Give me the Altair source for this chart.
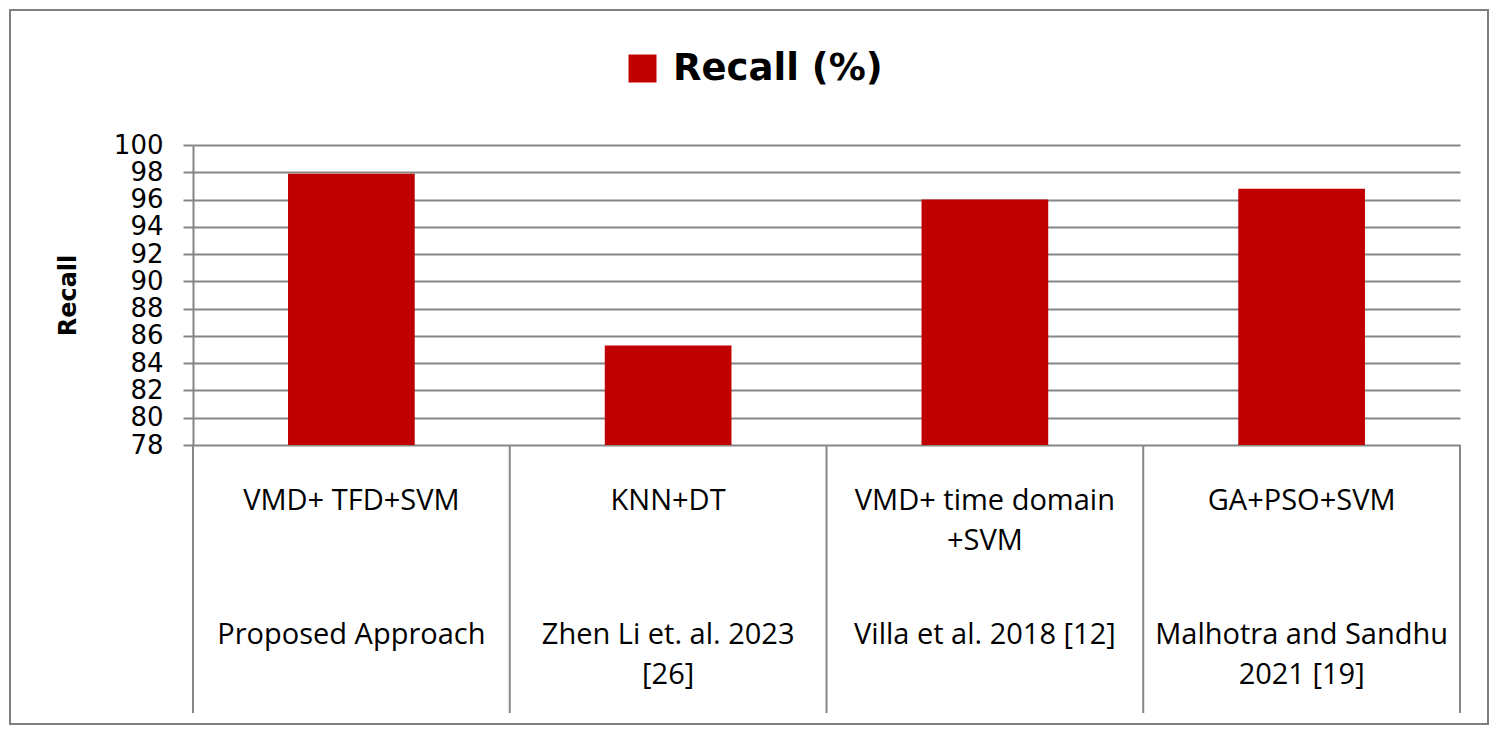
import altair as alt
import pandas as pd

methods = ["VMD+ TFD+SVM", "KNN+DT", "VMD+ time domain +SVM", "GA+PSO+SVM"]
recall = [97.9, 85.3, 96.0, 96.8]
method_lines = [["VMD+ TFD+SVM"], ["KNN+DT"], ["VMD+ time domain", "+SVM"], ["GA+PSO+SVM"]]
source_lines = [["Proposed Approach"], ["Zhen Li et. al. 2023", "[26]"],
                ["Villa et al. 2018 [12]"], ["Malhotra and Sandhu", "2021 [19]"]]
y_ticks = list(range(78, 101, 2))
y_min = 78
series = ["Recall (%)"]

GRAY = "#868686"
RED = "#C00000"

df = pd.DataFrame({
    "method": methods,
    "recall": recall,
    "mlines": method_lines,
    "slines": source_lines,
    "series": series * len(methods),
})

xenc = alt.X("method:N", sort=methods,
             scale=alt.Scale(paddingInner=0, paddingOuter=0), axis=None)

base = alt.Chart(df)

bars = base.mark_bar(width=alt.RelativeBandSize(0.4)).encode(
    x=xenc,
    y=alt.Y("recall:Q",
            scale=alt.Scale(domain=[78, 100], nice=False, zero=False),
            axis=alt.Axis(values=y_ticks, title="Recall",
                          titleFont="DejaVu Sans", titleFontWeight="bold",
                          titleFontSize=24, titleColor="black",
                          titleAngle=-90, titleX=-125, titleY=150,
                          titleAlign="center", titleBaseline="middle",
                          labelFont="DejaVu Sans", labelFontSize=26,
                          labelColor="black", labelPadding=20,
                          tickSize=10, tickColor=GRAY, tickWidth=2,
                          domainColor=GRAY, domainWidth=2,
                          gridColor=GRAY, gridWidth=2, gridOpacity=1)),
    y2=alt.datum(y_min),
    color=alt.Color("series:N",
                    scale=alt.Scale(domain=series, range=[RED]),
                    legend=alt.Legend(title=None, orient="none",
                                      legendX=431, legendY=-95,
                                      symbolType="square", symbolSize=784,
                                      symbolStrokeWidth=0, symbolOpacity=1,
                                      labelFont="DejaVu Sans",
                                      labelFontWeight="bold",
                                      labelFontSize=37, labelOffset=12,
                                      labelLimit=500,
                                      labelColor="black", padding=0)),
)

seps_left = base.mark_rule(color=GRAY, strokeWidth=2).encode(
    x=alt.X("method:N", sort=methods, bandPosition=0,
            scale=alt.Scale(paddingInner=0, paddingOuter=0), axis=None),
    y=alt.value(300), y2=alt.value(568),
)
seps_right = base.mark_rule(color=GRAY, strokeWidth=2).encode(
    x=alt.X("method:N", sort=methods, bandPosition=1,
            scale=alt.Scale(paddingInner=0, paddingOuter=0), axis=None),
    y=alt.value(300), y2=alt.value(568),
).transform_filter(alt.datum.method == methods[-1])

text_kw = dict(font="Open Sans", fontSize=29, baseline="alphabetic",
               lineHeight=40, align="center", color="black")
mtext = base.mark_text(**text_kw).encode(x=xenc, y=alt.value(365), text="mlines:N")
stext = base.mark_text(**text_kw).encode(x=xenc, y=alt.value(499), text="slines:N")

frame = alt.Chart(pd.DataFrame({"k": [0]})).mark_rect(
    fillOpacity=0, stroke="#7f7f7f", strokeWidth=2
).encode(x=alt.value(-183), x2=alt.value(1295),
         y=alt.value(-135), y2=alt.value(579))

chart = alt.layer(frame, bars, seps_left, seps_right, mtext, stext).properties(
    width=1267, height=300,
    autosize=alt.AutoSizeParams(type="none"),
    padding={"left": 185, "top": 137, "right": 30, "bottom": 280},
    background="white",
).configure_view(stroke=None)

chart.save("out.html", embed_options={"renderer": "svg", "actions": False})
